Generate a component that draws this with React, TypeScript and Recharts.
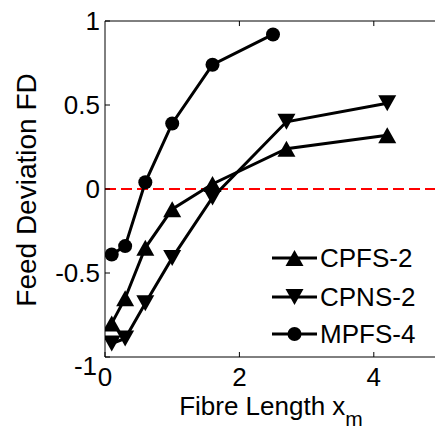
import { LineChart, Line, XAxis, YAxis, ReferenceLine, Legend } from 'recharts';

// Fibre length (x) and feed deviation (y) per fabric
const cpfsX = [0.1, 0.3, 0.6, 1.0, 1.6, 2.7, 4.2];
const cpfsY = [-0.8, -0.65, -0.35, -0.12, 0.03, 0.24, 0.32];
const cpnsX = [0.1, 0.3, 0.6, 1.0, 1.6, 2.7, 4.2];
const cpnsY = [-0.92, -0.89, -0.68, -0.41, -0.05, 0.4, 0.51];
const mpfsX = [0.1, 0.3, 0.6, 1.0, 1.6, 2.5];
const mpfsY = [-0.39, -0.34, 0.04, 0.39, 0.74, 0.92];

const xTicks = [0, 2, 4];
const yTicks = [-1, -0.5, 0, 0.5, 1];

const FONT = 'Liberation Sans, Arial, Helvetica, sans-serif';

const zip = (xs: number[], ys: number[]) => xs.map((x, i) => ({ x, y: ys[i] }));

type Shape = 'up' | 'down' | 'circle';

function Marker({ cx, cy, shape }: { cx: number; cy: number; shape: Shape }) {
  if (shape === 'circle') return <circle cx={cx} cy={cy} r={7} fill="#000" />;
  const w = 9;
  const h = 8;
  const pts =
    shape === 'up'
      ? `${cx - w},${cy + h} ${cx + w},${cy + h} ${cx},${cy - h}`
      : `${cx - w},${cy - h} ${cx + w},${cy - h} ${cx},${cy + h}`;
  return <polygon points={pts} fill="#000" />;
}

const dotFor = (shape: Shape) => (p: any) => (
  <Marker key={`${shape}-${p.index}`} cx={p.cx} cy={p.cy} shape={shape} />
);

const series: { name: string; data: { x: number; y: number }[]; shape: Shape }[] = [
  { name: 'CPFS-2', data: zip(cpfsX, cpfsY), shape: 'up' },
  { name: 'CPNS-2', data: zip(cpnsX, cpnsY), shape: 'down' },
  { name: 'MPFS-4', data: zip(mpfsX, mpfsY), shape: 'circle' },
];

// matlab nudges the bottom label down, next to the x "0"
function YTick({ x, y, payload }: any) {
  const low = payload.value === -1;
  return (
    <text
      x={low ? x - 3 : x}
      y={low ? y + 9 : y}
      dy="0.36em"
      textAnchor="end"
      fontSize={26}
      fontFamily={FONT}
      fill="#000"
    >
      {payload.value}
    </text>
  );
}

function LegendBox() {
  return (
    <svg width={170} height={120} style={{ display: 'block' }}>
      {series.map((s, i) => {
        const cy = [23, 62, 99][i];
        return (
          <g key={s.name}>
            <line x1={7} x2={52} y1={cy} y2={cy} stroke="#000" strokeWidth={3} />
            <Marker cx={29.5} cy={cy} shape={s.shape} />
            <text x={55} y={cy} dy="0.36em" fontSize={26} fontFamily={FONT} fill="#000">
              {s.name}
            </text>
          </g>
        );
      })}
    </svg>
  );
}

export default function App() {
  return (
    <div style={{ position: 'fixed', left: 0, top: 0, width: 435, height: 434, overflow: 'hidden', background: '#fff' }}>
      <LineChart width={445} height={434} margin={{ top: 21, right: 4, bottom: 0, left: 0 }}>
        <XAxis
          dataKey="x"
          type="number"
          domain={[0, 5]}
          ticks={xTicks}
          allowDataOverflow
          height={77}
          stroke="#000"
          tickSize={-5}
          tickMargin={16}
          tick={{ fontSize: 26, fontFamily: FONT, fill: '#000' }}
          label={{
            content: () => (
              <text x={271} y={415} textAnchor="middle" fontSize={26} fontFamily={FONT} fill="#000">
                Fibre Length x
                <tspan dy={11} fontSize={21}>m</tspan>
              </text>
            ),
          }}
        />
        <YAxis
          dataKey="y"
          type="number"
          domain={[-1, 1]}
          ticks={yTicks}
          width={105}
          stroke="#000"
          tickSize={-5}
          tickMargin={10}
          tick={<YTick />}
          label={{
            content: () => (
              <text
                x={36}
                y={190}
                transform="rotate(-90 36 190)"
                textAnchor="middle"
                fontSize={28}
                fontFamily={FONT}
                fill="#000"
              >
                Feed Deviation FD
              </text>
            ),
          }}
        />
        <ReferenceLine y={1} stroke="#000" strokeWidth={1} />
        <ReferenceLine segment={[{ x: 2, y: 1 }, { x: 2, y: 0.97 }]} stroke="#000" />
        <ReferenceLine segment={[{ x: 4, y: 1 }, { x: 4, y: 0.97 }]} stroke="#000" />
        <ReferenceLine y={0} stroke="#ff0000" strokeWidth={2} strokeDasharray="11 5" />
        {series.map((s) => (
          <Line
            key={s.name}
            data={s.data}
            dataKey="y"
            name={s.name}
            stroke="#000"
            strokeWidth={3}
            dot={dotFor(s.shape)}
            isAnimationActive={false}
          />
        ))}
        <Legend
          layout="vertical"
          align="center"
          verticalAlign="middle"
          wrapperStyle={{ left: 265, top: 235, width: 170 }}
          content={() => <LegendBox />}
        />
      </LineChart>
    </div>
  );
}
